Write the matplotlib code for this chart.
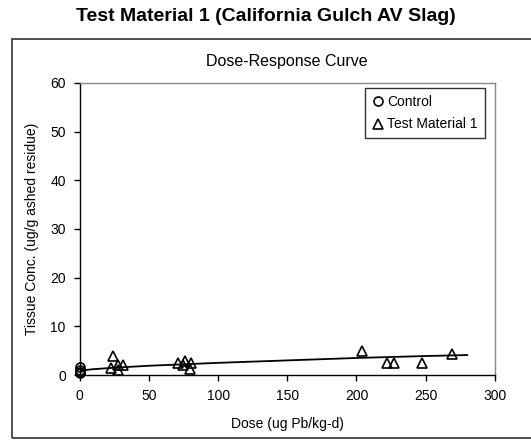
import matplotlib
matplotlib.use('Agg')
import matplotlib.pyplot as plt
from matplotlib.patches import Rectangle

plt.rcParams['font.family'] = ['Liberation Sans', 'DejaVu Sans']

# data
control_x = [0, 0, 0, 0]
control_y = [1.6, 1.1, 0.7, 0.4]

test_x = [23.8, 23.0, 27.5, 27.5, 31.6, 71.3, 76.2, 74.5, 80.1, 79.4,
          204.2, 222.3, 227.2, 247.3, 268.9]
test_y = [4.0, 1.45, 2.0, 1.1, 2.0, 2.4, 2.9, 2.0, 2.4, 1.2,
          4.9, 2.5, 2.5, 2.5, 4.3]

# fitted curve, read at a few points
fit_x = [0, 2, 5, 10, 25, 50, 75, 100, 150, 200, 250, 280]
fit_y = [0.8, 0.92, 1.05, 1.2, 1.5, 1.9, 2.2, 2.5, 3.0, 3.5, 3.9, 4.1]

xticks = [0, 50, 100, 150, 200, 250, 300]
yticks = [0, 10, 20, 30, 40, 50, 60]


def main():
    fig = plt.figure(figsize=(5.31, 4.40), dpi=100)
    ax = fig.add_axes([0.150, 0.1477, 0.782, 0.664])

    # outer frame around the chart
    frame = Rectangle((0.022, 0.004), 1.0, 0.907, transform=fig.transFigure,
                      fill=False, edgecolor='#333333', linewidth=1.2, clip_on=False)
    fig.patches.append(frame)

    ax.plot(fit_x, fit_y, '-', color='black', linewidth=1.3, zorder=2)
    ax.plot(control_x, control_y, 'o', markerfacecolor='none', markeredgecolor='black',
            markersize=6.5, markeredgewidth=1.2, linestyle='none', label='Control',
            zorder=3, clip_on=False)
    ax.plot(test_x, test_y, '^', markerfacecolor='none', markeredgecolor='black',
            markersize=7.5, markeredgewidth=1.2, linestyle='none', label='Test Material 1',
            zorder=3, clip_on=False)

    ax.set_xlim(0, 300)
    ax.set_ylim(0, 60)
    ax.set_xticks(xticks)
    ax.set_yticks(yticks)
    ax.tick_params(direction='out', length=4, width=1, labelsize=10, pad=6)

    for side in ['top', 'right']:
        ax.spines[side].set_color('#888888')
        ax.spines[side].set_linewidth(1)
    for side in ['left', 'bottom']:
        ax.spines[side].set_color('black')
        ax.spines[side].set_linewidth(1)

    ax.set_xlabel('Dose (ug Pb/kg-d)', fontsize=10, labelpad=10)
    ax.set_ylabel('Tissue Conc. (ug/g ashed residue)', fontsize=10, labelpad=8)
    ax.set_title('Dose-Response Curve', fontsize=11.5, pad=12)

    fig.text(0.5, 0.962, 'Test Material 1 (California Gulch AV Slag)',
             ha='center', va='center', fontsize=14, fontweight='bold')

    leg = ax.legend(loc='upper right', bbox_to_anchor=(0.976, 0.982), borderaxespad=0,
                    fontsize=10, frameon=True, fancybox=False, handlelength=0.8,
                    handletextpad=0.3, borderpad=0.5, labelspacing=0.6)
    leg.get_frame().set_edgecolor('black')
    leg.get_frame().set_linewidth(1)

    fig.savefig('out.png', dpi=100)


if __name__ == '__main__':
    main()
